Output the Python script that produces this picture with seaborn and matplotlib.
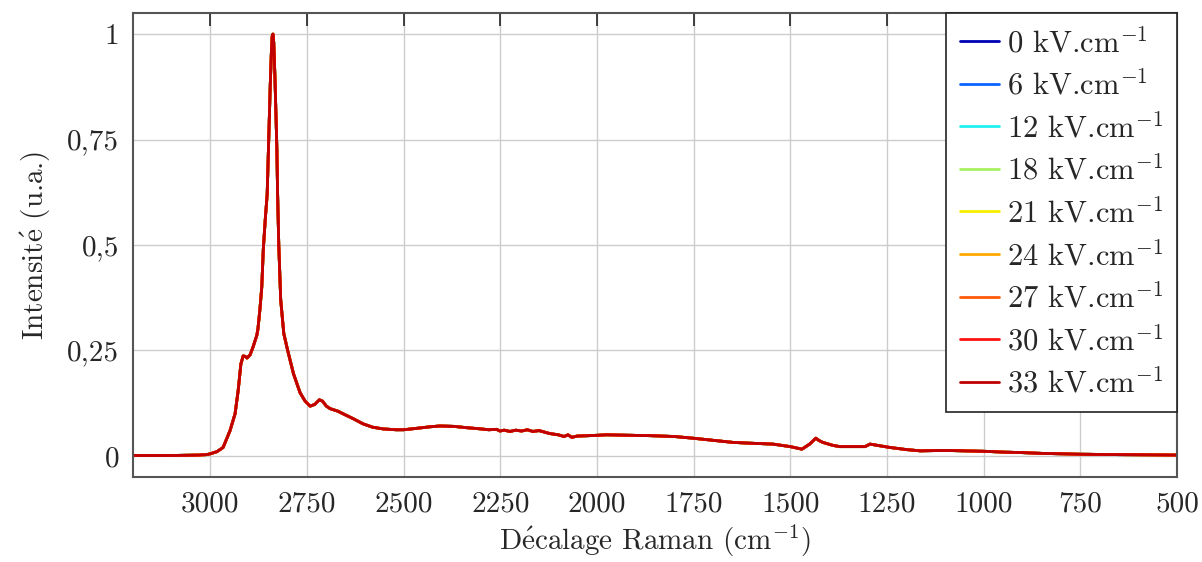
import matplotlib
matplotlib.use("Agg")
import matplotlib.pyplot as plt
import numpy as np
import pandas as pd
import seaborn as sns

# Raman shift (cm^-1) and normalised intensity of the spectrum
raman_shift = [
    3200, 3100, 3030, 3010, 3000, 2990, 2983, 2967, 2949, 2936, 2928, 2921,
    2915, 2910, 2905, 2897, 2890, 2880, 2877, 2872, 2867, 2863, 2858, 2853,
    2849, 2845, 2842, 2840, 2838, 2836, 2833, 2830, 2828, 2826, 2823, 2818,
    2810, 2800, 2785, 2768, 2755, 2742, 2730, 2718, 2710, 2700, 2690, 2670,
    2657, 2630, 2605, 2580, 2553, 2520, 2500, 2470, 2432, 2406, 2370, 2338,
    2300, 2280, 2260, 2251, 2240, 2225, 2210, 2195, 2180, 2166, 2150, 2122,
    2100, 2085, 2075, 2065, 2052, 2020, 1975, 1920, 1863, 1800, 1752, 1700,
    1648, 1600, 1545, 1500, 1470, 1450, 1434, 1425, 1416, 1390, 1372, 1330,
    1307, 1294, 1275, 1242, 1200, 1164, 1100, 1053, 1000, 950, 906, 850,
    751, 650, 500,
]
intensity = [
    0.001, 0.001, 0.002, 0.003, 0.005, 0.008, 0.010, 0.020, 0.060, 0.100, 0.155, 0.218,
    0.237, 0.236, 0.232, 0.240, 0.257, 0.285, 0.300, 0.345, 0.400, 0.490, 0.560, 0.620,
    0.750, 0.880, 0.960, 0.995, 1.000, 0.980, 0.900, 0.800, 0.730, 0.620, 0.500, 0.370,
    0.290, 0.250, 0.195, 0.150, 0.130, 0.118, 0.122, 0.133, 0.130, 0.118, 0.112, 0.106,
    0.100, 0.088, 0.076, 0.068, 0.064, 0.062, 0.062, 0.065, 0.069, 0.071, 0.070, 0.067,
    0.064, 0.062, 0.063, 0.059, 0.061, 0.058, 0.061, 0.059, 0.062, 0.058, 0.060, 0.053,
    0.050, 0.046, 0.050, 0.044, 0.047, 0.048, 0.050, 0.049, 0.048, 0.046, 0.042, 0.037,
    0.032, 0.030, 0.028, 0.022, 0.016, 0.028, 0.042, 0.036, 0.032, 0.025, 0.022, 0.022,
    0.022, 0.028, 0.025, 0.020, 0.015, 0.012, 0.013, 0.012, 0.011, 0.009, 0.008, 0.006,
    0.004, 0.003, 0.002,
]

# Applied electric field (kV/cm) and line colours
field_values = [0, 6, 12, 18, 21, 24, 27, 30, 33]
field_colors = ["#0000b4", "#0a64ff", "#22f0f0", "#a8f060", "#f5f000",
                "#ffa800", "#ff5a0a", "#ff1010", "#c00000"]

x_ticks = [3000, 2750, 2500, 2250, 2000, 1750, 1500, 1250, 1000, 750, 500]
y_ticks = [0, 0.25, 0.5, 0.75, 1]
y_tick_labels = ["0", "0,25", "0,5", "0,75", "1"]

labels = [rf"{v} kV.cm$^{{-1}}$" for v in field_values]

frames = []
for lab in labels:
    frames.append(pd.DataFrame({"shift": raman_shift, "I": intensity, "field": lab}))
df = pd.concat(frames, ignore_index=True)

sns.set_style("white")
plt.rcParams.update({
    "font.family": "serif",
    "font.serif": ["cmr10"],
    "mathtext.fontset": "cm",
    "axes.unicode_minus": False,
    "axes.formatter.use_mathtext": True,
})

fig = plt.figure(figsize=(12.02, 5.62), dpi=100)
ax = fig.add_axes([133 / 1202, 85 / 562, 1044 / 1202, 464 / 562])

sns.lineplot(data=df, x="shift", y="I", hue="field", hue_order=labels,
             palette=field_colors, sort=False, estimator=None, lw=2.0, ax=ax)

ax.set_xlim(3200, 500)
ax.set_ylim(-0.05, 1.05)
ax.set_xticks(x_ticks)
ax.set_xticklabels([str(t) for t in x_ticks])
ax.set_yticks(y_ticks)
ax.set_yticklabels(y_tick_labels)
ax.grid(True, color="#cccccc", lw=1.0)
ax.set_axisbelow(True)
ax.tick_params(direction="in", length=9, width=1.2, color="#222222",
               top=True, right=True, labelsize=21, pad=10)
for s in ax.spines.values():
    s.set_color("#555555")
    s.set_linewidth(1.5)

ax.set_xlabel(r"D$\mathrm{\acute{e}}$calage Raman (cm$^{-1}$)", fontsize=21, labelpad=4)
ax.set_ylabel(r"Intensit$\mathrm{\acute{e}}$ (u.a.)", fontsize=21, labelpad=10)

leg = ax.legend(loc="upper right", fontsize=22, frameon=True, fancybox=False,
                borderaxespad=0, handlelength=1.3, handletextpad=0.25,
                labelspacing=0.38, borderpad=0.45)
leg.get_frame().set_edgecolor("#222222")
leg.get_frame().set_linewidth(1.2)
leg.get_frame().set_alpha(1)
for h in leg.get_lines():
    h.set_linewidth(2)

fig.savefig("out.png", dpi=100)
